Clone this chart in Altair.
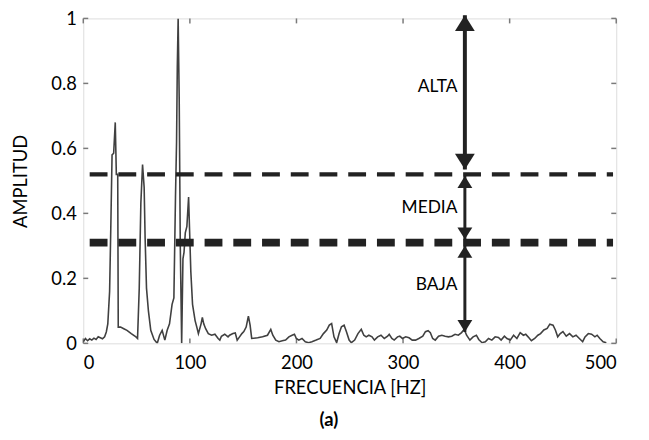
import altair as alt
import pandas as pd

# ---- data ----
freq_hz = [0, 2, 4, 6, 8, 10, 12, 14, 16, 18, 20, 21.6, 23, 24.7, 26, 27, 28.5, 30, 31, 32.3, 32.8,
           35, 38, 41, 45, 49.4, 50.9, 52.5, 54, 55.6, 57.1, 58, 59.3, 61.1, 63.3, 66.4, 69.4, 71.6,
           74, 76.5, 78.7, 80.9, 83.3, 85, 86.5, 87.5, 88.2, 89, 90, 91, 92.3, 93.5, 94.5, 95.7,
           97.2, 98.8, 99.7, 100.9, 102.5, 104.9, 106.5, 108, 110.5, 111.7, 113, 114.8, 117.3,
           120.4, 123.5, 126.5, 128.1, 129.6, 132.7, 135.8, 137.3, 140.4, 142.6, 144.4, 146.6,
           148.8, 150.6, 152.8, 154.9, 156.5, 158, 163.6, 168.2, 172.8, 175.9, 177.8, 180.6,
           183.6, 186.7, 189.8, 192.9, 195.9, 198.1, 199.9, 202.2, 205.2, 208.3, 211.4, 214.5,
           218.5, 222.2, 225.3, 228.4, 230.8, 233, 235.2, 237.7, 240, 242.2, 244.7, 246.9, 249.4,
           251.5, 254.6, 257.7, 260.8, 263.2, 265.4, 267.9, 270.9, 273.1, 276.2, 279.3, 282.4,
           285.5, 287, 289.5, 291.7, 294.8, 296.9, 299.4, 302.5, 305.6, 308.6, 311.7, 314.8,
           318.5, 321, 323.5, 325.6, 327.8, 330.2, 333.3, 336.4, 339.5, 342.6, 345.7, 348.8,
           351.9, 354.9, 357.4, 359.6, 362.7, 365.7, 368.8, 371, 374.1, 377.2, 380.2, 383.3,
           386.4, 389.5, 392, 395.1, 397.5, 400.6, 403.7, 406.8, 409.9, 412.9, 415.1, 417.3,
           420.4, 423.5, 426.5, 429, 432.1, 435.2, 437.7, 440.7, 442.9, 445.1, 447.5, 450,
           453.1, 456.2, 459.3, 462.3, 465.4, 468.5, 470.7, 473.8, 476.9, 480, 482.1, 484.6,
           487.7, 490.7]
amplitude = [0.005, 0.015, 0.008, 0.014, 0.01, 0.016, 0.012, 0.02, 0.017, 0.014, 0.02, 0.035, 0.06,
             0.16, 0.39, 0.58, 0.585, 0.68, 0.52, 0.52, 0.05,
             0.05, 0.045, 0.04, 0.03, 0.02, 0.015, 0.17, 0.43, 0.55, 0.48, 0.325, 0.17, 0.10, 0.04,
             0.012, 0.0, 0.025,
             0.04, 0.01, 0.04, 0.06, 0.12, 0.14, 0.45, 0.62, 0.85, 1.0, 0.75, 0.3, 0.0, 0.26, 0.28,
             0.34,
             0.36, 0.45, 0.35, 0.22, 0.12, 0.07, 0.05, 0.03, 0.06, 0.08, 0.06, 0.045, 0.03,
             0.025, 0.028, 0.015, 0.01, 0.022, 0.028, 0.02, 0.025, 0.03, 0.032, 0.01, 0.02,
             0.03, 0.036, 0.05, 0.084, 0.056, 0.015, 0.017, 0.02, 0.025, 0.043, 0.025, 0.01,
             0.005, 0.008, 0.01, 0.02, 0.025, 0.028, 0.015, 0.01, 0.015, 0.005, 0.002, 0.005,
             0.01, 0.015, 0.03, 0.041, 0.056, 0.061, 0.02, 0.002, 0.03, 0.051, 0.056, 0.036, 0.01,
             0.002, 0.01, 0.03, 0.043, 0.025, 0.02, 0.025, 0.02, 0.01, 0.02, 0.025, 0.015,
             0.022, 0.028, 0.015, 0.01, 0.02, 0.022, 0.015, 0.02, 0.017, 0.01, 0.01, 0.015,
             0.022, 0.036, 0.039, 0.033, 0.015, 0.01, 0.022, 0.025, 0.022, 0.02, 0.022, 0.028,
             0.025, 0.033, 0.043, 0.025, 0.01, 0.02, 0.025, 0.012, 0.002, 0.005, 0.015, 0.01,
             0.02, 0.018, 0.01, 0.022, 0.015, 0.01, 0.025, 0.015, 0.033, 0.025, 0.028, 0.02,
             0.008, 0.015, 0.025, 0.03, 0.041, 0.046, 0.059, 0.056, 0.041, 0.02, 0.03, 0.036,
             0.022, 0.03, 0.02, 0.025, 0.015, 0.005, 0.02, 0.03, 0.028, 0.02, 0.025, 0.015,
             0.005, 0.002]

x_ticks = [0, 100, 200, 300, 400, 500]
y_ticks = [0, 0.2, 0.4, 0.6, 0.8, 1.0]

level_values = [0.52, 0.31]          # dashed thresholds
level_start = [6, 6]
level_end = [497, 497]
level_width = [4.5, 8]

arrow_freq = 358
arrow_top = [1.01, 0.515, 0.30]
arrow_bottom = [0.535, 0.32, 0.035]
arrow_width = [4, 3, 3]
arrow_head_size = [1024, 576, 576]

zone_labels = ["ALTA", "MEDIA", "BAJA"]
zone_label_y = [0.79, 0.415, 0.178]
zone_label_freq = 351

W, H = 538, 328
FONT = "Lato"
INK = "#222222"
FRAME = "#7a7a7a"
FS = 18.5

spec = pd.DataFrame({"f": freq_hz, "a": amplitude})
levels = pd.DataFrame({"y": level_values, "x1": level_start, "x2": level_end, "w": level_width})
arrows = pd.DataFrame({"x": [arrow_freq] * 3, "top": arrow_top, "bot": arrow_bottom,
                       "w": arrow_width, "s": arrow_head_size})
labels = pd.DataFrame({"x": [zone_label_freq] * 3, "y": zone_label_y, "t": zone_labels})
xt = pd.DataFrame({"v": x_ticks})
yt = pd.DataFrame({"v": y_ticks})

xs = alt.Scale(domain=[0, 500], nice=False, zero=False)
ys = alt.Scale(domain=[0, 1], nice=False, zero=False)

x_axis = alt.Axis(values=x_ticks, format="d", title="FRECUENCIA [HZ]", domain=False, ticks=False,
                  grid=False, labelPadding=10, labelFontSize=FS, titleFontSize=FS,
                  titleFontWeight="normal", titlePadding=7, labelFont=FONT, titleFont=FONT,
                  labelColor="black", titleColor="black")
y_axis = alt.Axis(values=y_ticks, format=".1~f", title="AMPLITUD", domain=False, ticks=False,
                  grid=False, labelPadding=7, labelFontSize=FS, titleFontSize=FS,
                  titleFontWeight="normal", titlePadding=20, labelFont=FONT, titleFont=FONT,
                  labelColor="black", titleColor="black")

line = alt.Chart(spec).mark_line(color="#404040", strokeWidth=1.6, clip=True).encode(
    x=alt.X("f:Q", scale=xs, axis=x_axis),
    y=alt.Y("a:Q", scale=ys, axis=y_axis),
)

dashes = alt.Chart(levels).mark_rule(color=INK, strokeDash=[18, 11]).encode(
    x=alt.X("x1:Q", scale=xs), x2="x2:Q", y=alt.Y("y:Q", scale=ys),
    strokeWidth=alt.StrokeWidth("w:Q", scale=None, legend=None),
)

shafts = alt.Chart(arrows).mark_rule(color=INK, clip=False).encode(
    x=alt.X("x:Q", scale=xs), y=alt.Y("top:Q", scale=ys), y2="bot:Q",
    strokeWidth=alt.StrokeWidth("w:Q", scale=None, legend=None),
)
head_up = alt.Chart(arrows).mark_point(
    shape="M0,0L-0.625,1L0.625,1Z", filled=True, color=INK, opacity=1, clip=False
).encode(x=alt.X("x:Q", scale=xs), y=alt.Y("top:Q", scale=ys),
         size=alt.Size("s:Q", scale=None, legend=None))
head_down = alt.Chart(arrows).mark_point(
    shape="M0,0L-0.625,-1L0.625,-1Z", filled=True, color=INK, opacity=1, clip=False
).encode(x=alt.X("x:Q", scale=xs), y=alt.Y("bot:Q", scale=ys),
         size=alt.Size("s:Q", scale=None, legend=None))

texts = alt.Chart(labels).mark_text(align="right", baseline="middle", font=FONT, fontSize=17.5,
                                    color="black").encode(
    x=alt.X("x:Q", scale=xs), y=alt.Y("y:Q", scale=ys), text="t:N")

tick_len = 5
tb = alt.Chart(xt).mark_rule(color=FRAME, strokeWidth=1.5).encode(
    x=alt.X("v:Q", scale=xs), y=alt.value(H), y2=alt.value(H - tick_len))
tt = alt.Chart(xt).mark_rule(color=FRAME, strokeWidth=1.5).encode(
    x=alt.X("v:Q", scale=xs), y=alt.value(0), y2=alt.value(tick_len))
tl = alt.Chart(yt).mark_rule(color=FRAME, strokeWidth=1.5).encode(
    y=alt.Y("v:Q", scale=ys), x=alt.value(0), x2=alt.value(tick_len))
tr = alt.Chart(yt).mark_rule(color=FRAME, strokeWidth=1.5).encode(
    y=alt.Y("v:Q", scale=ys), x=alt.value(W), x2=alt.value(W - tick_len))

chart = alt.layer(tb, tt, tl, tr, line, dashes, shafts, head_up, head_down, texts).properties(
    width=W, height=H,
    autosize=alt.AutoSizeParams(type="none"),
    padding={"left": 76, "top": 8.5, "right": 25, "bottom": 90},
    title=alt.TitleParams("(a)", orient="bottom", anchor="middle", dx=-21, offset=14,
                          font=FONT, fontSize=18.5, fontWeight="bold", color="black"),
).configure_view(stroke=FRAME, strokeWidth=2).configure(background="white")

chart.save("out.html", embed_options={"renderer": "svg", "actions": False})
